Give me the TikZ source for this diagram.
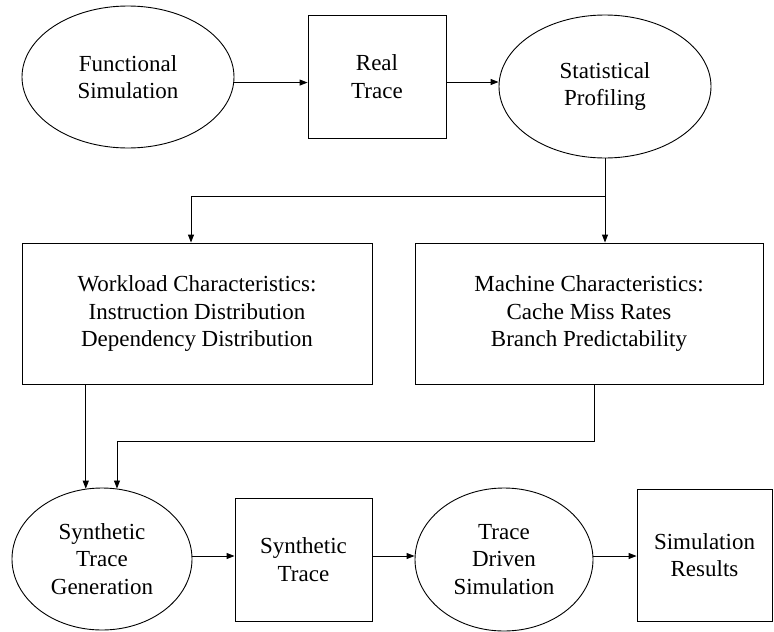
\documentclass[tikz,border=0pt]{standalone}
\usepackage{fontspec}
\setmainfont{Liberation Serif}
\usetikzlibrary{shapes.geometric,arrows.meta}
\begin{document}
\begin{tikzpicture}[x=1pt,y=-1pt,
  every node/.style={inner sep=0pt, align=center, font=\fontsize{23}{27.5}\selectfont},
  ell/.style={draw, ellipse, line width=0.9pt},
  boxn/.style={draw, rectangle, line width=0.9pt},
  arr/.style={line width=0.9pt, -{Triangle[length=8pt,width=6pt]}},
  ln/.style={line width=0.9pt}]
\useasboundingbox (0,0) rectangle (774,632);
\node[ell, minimum width=212pt, minimum height=142pt] (e1) at (128,77) {Functional\\Simulation};
\node[boxn, minimum width=138pt, minimum height=123pt] (b1) at (377,76.5) {Real\\Trace};
\node[ell, minimum width=212pt, minimum height=143pt] (e2) at (605,86.5) {Statistical\\Profiling};
\node[boxn, minimum width=350pt, minimum height=141pt] (wl) at (197,313.5) {Workload Characteristics:\\Instruction Distribution\\Dependency Distribution};
\node[boxn, minimum width=348pt, minimum height=141pt] (mc) at (589,313.5) {Machine Characteristics:\\Cache Miss Rates\\Branch Predictability};
\node[ell, minimum width=180pt, minimum height=142pt] (e3) at (102,559) {Synthetic\\Trace\\Generation};
\node[boxn, minimum width=137pt, minimum height=123pt] (b2) at (303.5,559.5) {Synthetic\\Trace};
\node[ell, minimum width=178pt, minimum height=143pt] (e4) at (504,559.5) {Trace\\Driven\\Simulation};
\node[boxn, minimum width=135pt, minimum height=132pt] (b3) at (704.5,555) {Simulation\\Results};
\coordinate (br) at (605,196);
% top row
\draw[arr] (e1.-3) -- (e1.-3 -| b1.west);
\draw[arr] ([yshift=-5.5pt]b1.east) -- ([yshift=-5.5pt]b1.east -| e2.west);
% branching
\draw[arr] (e2.south) -- (e2.south |- mc.north);
\draw[arr] (br) -| ([xshift=-6pt]wl.north);
% to generation
\draw[arr] (wl.south -| e3.103) -- (e3.103);
\draw[arr] ([xshift=5pt]mc.south) -- ++(0,57) -| (e3.78);
% bottom row
\draw[arr] ([yshift=3pt]e3.east) -- ([yshift=3pt]e3.east -| b2.west);
\draw[arr] ([yshift=3.5pt]b2.east) -- ([yshift=3.5pt]b2.east -| e4.west);
\draw[arr] ([yshift=3.5pt]e4.east) -- ([yshift=3.5pt]e4.east -| b3.west);
\end{tikzpicture}
\end{document}
